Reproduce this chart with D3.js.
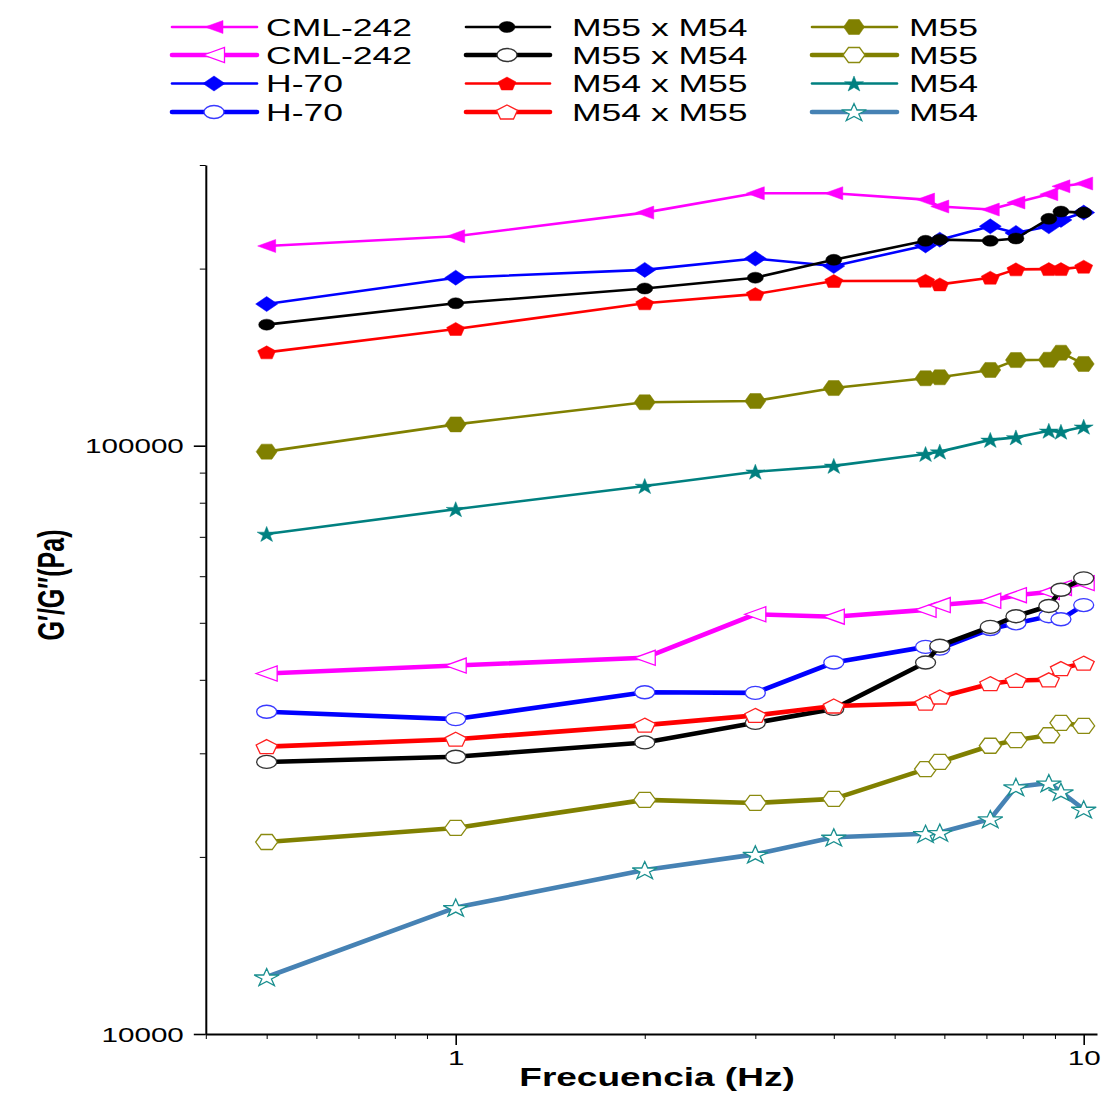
<!DOCTYPE html>
<html>
<head>
<meta charset="utf-8">
<script src="https://cdn.jsdelivr.net/npm/d3@7"></script>
<style>
  html, body { margin: 0; padding: 0; background: #ffffff; }
  svg { display: block; }
  text { font-family: "Liberation Sans", Arial, sans-serif; fill: #000; }
</style>
</head>
<body>
<svg id="chart" width="1116" height="1095"></svg>
<script>
// Oscillation frequencies (Hz)
const freqHz = [0.5, 1, 2, 3, 4, 5.6, 5.9, 7.1, 7.8, 8.8, 9.2, 10];

// Storage modulus G' (filled markers), Pa
const cml242Storage = [218500, 227000, 249000, 268600, 268600, 262000, 255000, 252000, 259000, 267600, 276000, 279000];
const h70Storage    = [174100, 193000, 199000, 208000, 202000, 219000, 224000, 236000, 230000, 236000, 242000, 249000];
const m55xm54Storage = [160600, 174600, 185000, 193000, 207000, 223000, 224000, 223000, 225000, 243000, 250000, 249000];
const m54xm55Storage = [144100, 157900, 174600, 181000, 190500, 190700, 188000, 193000, 199400, 199600, 199600, 201500];
const m55Storage    = [97700, 108700, 118500, 119100, 125300, 130200, 130700, 134500, 139800, 140000, 143900, 137700];
const m54Storage    = [70800, 78000, 85400, 90300, 92400, 96800, 97700, 102300, 103300, 106000, 105600, 107700];

// Loss modulus G'' (open markers), Pa
const cml242Loss  = [41000, 42300, 43600, 51700, 51200, 52600, 53600, 54500, 55700, 56400, 57300, 58400];
const h70Loss     = [35300, 34300, 38100, 38000, 42800, 45500, 45200, 48800, 49900, 51300, 50700, 53600];
const m55xm54Loss = [29000, 29600, 31300, 33800, 35700, 42800, 45700, 49200, 51300, 53400, 56900, 59500];
const m54xm55Loss = [30800, 31700, 33500, 34800, 36100, 36500, 37400, 39400, 39900, 40000, 41800, 42700];
const m55Loss     = [21200, 22400, 25000, 24700, 25100, 28200, 29000, 30900, 31600, 32200, 33800, 33400];
const m54Loss     = [12500, 16400, 19000, 20200, 21600, 21900, 22000, 23200, 26300, 26700, 25800, 24100];

// Axis ticks and labels
const yMajorTicks = [10000, 100000];
const yMinorTicks = [20000, 30000, 40000, 50000, 60000, 70000, 80000, 90000, 200000, 300000];
const xMajorTicks = [1, 10];
const xMinorTicks = [0.4, 0.5, 0.6, 0.7, 0.8, 0.9, 2, 3, 4, 5, 6, 7, 8, 9];
const xTitle = "Frecuencia (Hz)";
const yTitle = "G\u2032/G\u2032\u2032(Pa)";

// Series in legend order (column by column)
const seriesLabels = ["CML-242", "CML-242", "H-70", "H-70",
                      "M55 x M54", "M55 x M54", "M54 x M55", "M54 x M55",
                      "M55", "M55", "M54", "M54"];

const SX = 1.48; // horizontal stretch applied to all lettering

const series = [
  { label: seriesLabels[0],  values: cml242Storage,  line: "#FF00FF", stroke: "#FF00FF", marker: "triLeft",  filled: true },
  { label: seriesLabels[1],  values: cml242Loss,     line: "#FF00FF", stroke: "#FF00FF", marker: "triLeft",  filled: false },
  { label: seriesLabels[2],  values: h70Storage,     line: "#0000FF", stroke: "#0000FF", marker: "diamond",  filled: true },
  { label: seriesLabels[3],  values: h70Loss,        line: "#0000FF", stroke: "#3a3aff", marker: "circle",   filled: false },
  { label: seriesLabels[4],  values: m55xm54Storage, line: "#000000", stroke: "#000000", marker: "circle",   filled: true },
  { label: seriesLabels[5],  values: m55xm54Loss,    line: "#000000", stroke: "#333333", marker: "circle",   filled: false },
  { label: seriesLabels[6],  values: m54xm55Storage, line: "#FF0000", stroke: "#FF0000", marker: "pentagon", filled: true },
  { label: seriesLabels[7],  values: m54xm55Loss,    line: "#FF0000", stroke: "#FF2020", marker: "pentagon", filled: false },
  { label: seriesLabels[8],  values: m55Storage,     line: "#808000", stroke: "#808000", marker: "hexagon",  filled: true },
  { label: seriesLabels[9],  values: m55Loss,        line: "#808000", stroke: "#8a8a10", marker: "hexagon",  filled: false },
  { label: seriesLabels[10], values: m54Storage,     line: "#008080", stroke: "#008080", marker: "star",     filled: true },
  { label: seriesLabels[11], values: m54Loss,        line: "#4682B4", stroke: "#1a8f8f", marker: "star",     filled: false }
];

// Marker box sizes (width x height, px) for filled / open variants
const markerSize = {
  filled: { triLeft: [18, 13], diamond: [22, 15], circle: [16, 11], pentagon: [18, 13], hexagon: [21, 15], star: [19, 15] },
  open:   { triLeft: [21, 15], diamond: [22, 15], circle: [20, 13], pentagon: [21, 14], hexagon: [22, 15], star: [25, 17] }
};

function polygon(pts) {
  return "M" + pts.map(p => p[0].toFixed(2) + "," + p[1].toFixed(2)).join("L") + "Z";
}

function markerPath(type, w, h) {
  const rx = w / 2, ry = h / 2;
  const rad = d => d * Math.PI / 180;
  switch (type) {
    case "triLeft":
      return `M${-rx},0L${rx},${-ry}L${rx},${ry}Z`;
    case "diamond":
      return `M0,${-ry}L${rx},0L0,${ry}L${-rx},0Z`;
    case "circle":
      return `M${-rx},0A${rx},${ry} 0 1,0 ${rx},0A${rx},${ry} 0 1,0 ${-rx},0Z`;
    case "pentagon": {
      const Rx = w / 1.902, Ry = h / 1.809, off = Ry * 0.0955;
      return polygon(d3.range(5).map(k => [Rx * Math.cos(rad(-90 + 72 * k)), Ry * Math.sin(rad(-90 + 72 * k)) + off]));
    }
    case "hexagon": {
      const Ry = ry / 0.866;
      return polygon(d3.range(6).map(k => [rx * Math.cos(rad(60 * k)), Ry * Math.sin(rad(60 * k))]));
    }
    case "star": {
      const Rx = w / 1.902, Ry = h / 1.809, off = Ry * 0.0955;
      return polygon(d3.range(10).map(k => {
        const r = k % 2 === 0 ? 1 : 0.382;
        const a = rad(-90 + 36 * k);
        return [Rx * r * Math.cos(a), Ry * r * Math.sin(a) + off];
      }));
    }
  }
}

function drawMarker(g, s, x, y) {
  const dims = markerSize[s.filled ? "filled" : "open"][s.marker];
  g.append("path")
    .attr("d", markerPath(s.marker, dims[0], dims[1]))
    .attr("transform", `translate(${x},${y})`)
    .attr("fill", s.filled ? s.stroke : "#ffffff")
    .attr("stroke", s.stroke)
    .attr("stroke-width", s.filled ? 0.5 : 1.3)
    .attr("stroke-linejoin", "miter");
}

const svg = d3.select("#chart");

const x = d3.scaleLog().domain([0.4, 10.5]).range([205.8, 1097]);
const y = d3.scaleLog().domain([10000, 300000]).range([1034, 165]);

// ---- Axes ----
const yAxisG = svg.append("g").attr("transform", `translate(${x.range()[0]},0)`);
yAxisG.append("g")
  .call(d3.axisLeft(y).tickValues(yMinorTicks).tickSize(6).tickSizeOuter(0).tickFormat(""))
  .call(g => g.select(".domain").attr("stroke-width", 2));
yAxisG.append("g")
  .call(d3.axisLeft(y).tickValues(yMajorTicks).tickSize(12).tickSizeOuter(0).tickFormat(d3.format("d")))
  .call(g => g.select(".domain").remove())
  .call(g => g.selectAll(".tick line").attr("stroke-width", 1.6))
  .call(g => g.selectAll(".tick text")
    .attr("x", 0).attr("dy", null)
    .attr("dominant-baseline", "central")
    .attr("transform", `translate(-22,0) scale(${SX},1)`)
    .style("font-size", "20px"));

const xAxisG = svg.append("g").attr("transform", `translate(0,${y.range()[0]})`);
xAxisG.append("g")
  .call(d3.axisBottom(x).tickValues(xMinorTicks).tickSize(5).tickSizeOuter(0).tickFormat(""))
  .call(g => g.select(".domain").attr("stroke-width", 2));
xAxisG.append("g")
  .call(d3.axisBottom(x).tickValues(xMajorTicks).tickSize(11).tickSizeOuter(0).tickFormat(d3.format("d")))
  .call(g => g.select(".domain").remove())
  .call(g => g.selectAll(".tick line").attr("stroke-width", 1.6))
  .call(g => g.selectAll(".tick text")
    .attr("y", 0).attr("dy", null)
    .attr("transform", `translate(0,31) scale(${SX},1)`)
    .style("font-size", "20px"));

svg.selectAll(".tick text").attr("fill", "#000");

// Axis titles
svg.append("text")
  .attr("transform", `translate(657,1086) scale(${SX},1)`)
  .attr("text-anchor", "middle")
  .style("font-size", "25px").style("font-weight", "bold")
  .text(xTitle);

svg.append("text")
  .attr("transform", `translate(64,585) scale(${SX},1) rotate(-90)`)
  .attr("text-anchor", "middle")
  .style("font-size", "25px").style("font-weight", "bold")
  .text(yTitle);

// ---- Series ----
const lineGen = d3.line().x(d => x(d[0])).y(d => y(d[1]));
const plot = svg.append("g");

series.forEach(s => {
  const g = plot.append("g");
  const pts = freqHz.map((f, i) => [f, s.values[i]]);
  g.append("path")
    .attr("d", lineGen(pts))
    .attr("fill", "none")
    .attr("stroke", s.line)
    .attr("stroke-width", s.filled ? 2.6 : 4.6)
    .attr("stroke-linejoin", "round");
  pts.forEach(p => drawMarker(g, s, x(p[0]), y(p[1])));
});

// ---- Legend ----
const legendRows = [27, 55, 83.5, 112];
const legendCols = [
  { x1: 172, x2: 257, mx: 214, tx: 266 },
  { x1: 466, x2: 550, mx: 507, tx: 572 },
  { x1: 812, x2: 897, mx: 854, tx: 909 }
];
const legend = svg.append("g");
series.forEach((s, i) => {
  const col = legendCols[Math.floor(i / 4)];
  const ry = legendRows[i % 4];
  const g = legend.append("g");
  g.append("line")
    .attr("x1", col.x1).attr("x2", col.x2).attr("y1", ry).attr("y2", ry)
    .attr("stroke", s.line).attr("stroke-width", s.filled ? 2.6 : 4.6)
    .attr("stroke-linecap", "round");
  drawMarker(g, s, col.mx, ry);
  g.append("text")
    .attr("transform", `translate(${col.tx},${ry + 8.6}) scale(${SX},1)`)
    .style("font-size", "24px")
    .text(s.label);
});
</script>
</body>
</html>
